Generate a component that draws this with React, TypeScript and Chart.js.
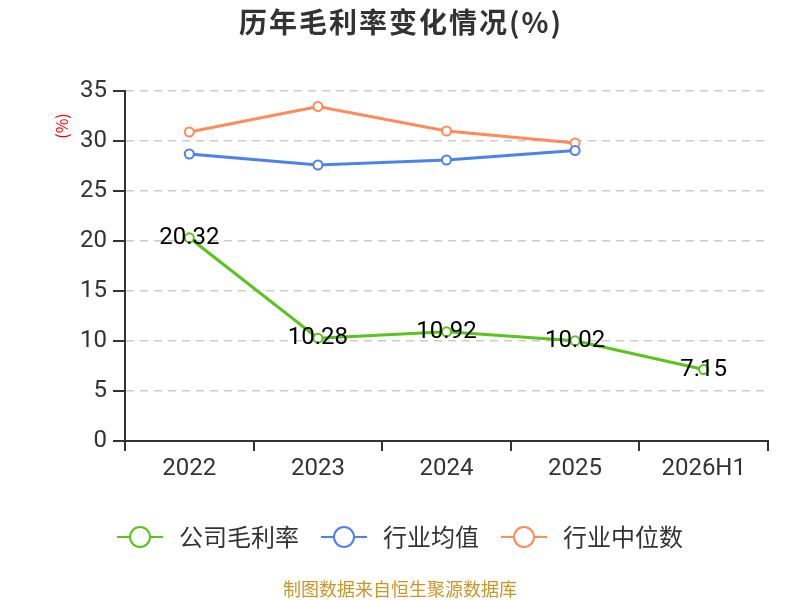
import { useEffect, useRef } from "react";
import { Chart, registerables } from "chart.js";

Chart.register(...registerables);

const years = ["2022", "2023", "2024", "2025", "2026H1"];
const companyMargin = [20.32, 10.28, 10.92, 10.02, 7.15];
const industryMean = [28.7, 27.6, 28.1, 29.05, null];
const industryMedian = [30.9, 33.45, 31.0, 29.8, null];
const yTicks = [0, 5, 10, 15, 20, 25, 30, 35];

const GREEN = "#5ac31e";
const BLUE = "#4d82e8";
const ORANGE = "#ff8c5a";
const CJK = "'Noto Sans CJK SC', 'Noto Sans', sans-serif";
const NUM = "Roboto, 'Noto Sans CJK SC', sans-serif";

const labelsPlugin = {
  id: "overlay",
  afterDatasetsDraw(chart: Chart) {
    const { ctx } = chart;
    const meta = chart.getDatasetMeta(0);
    ctx.save();
    ctx.font = `24px ${NUM}`;
    ctx.fillStyle = "#000";
    ctx.textAlign = "center";
    ctx.textBaseline = "middle";
    meta.data.forEach((pt, i) => {
      ctx.fillText(companyMargin[i].toFixed(2), pt.x, pt.y);
    });
    ctx.restore();
  },
  afterDraw(chart: Chart) {
    const { ctx } = chart;
    ctx.save();
    // title
    ctx.font = `bold 28px ${CJK}`;
    (ctx as any).letterSpacing = "2px";
    ctx.fillStyle = "#333";
    ctx.textAlign = "center";
    ctx.textBaseline = "middle";
    ctx.fillText("历年毛利率变化情况(%)", 401, 22);
    (ctx as any).letterSpacing = "0px";
    // y unit
    ctx.save();
    ctx.translate(62, 126);
    ctx.rotate(-Math.PI / 2);
    ctx.font = `16px ${CJK}`;
    ctx.fillStyle = "#ff0000";
    ctx.fillText("(%)", 0, 0);
    ctx.restore();
    // legend
    const items = [
      { text: "公司毛利率", color: GREEN },
      { text: "行业均值", color: BLUE },
      { text: "行业中位数", color: ORANGE },
    ];
    ctx.font = `24px ${CJK}`;
    const lineW = 46, gapText = 16, gapItem = 22;
    const widths = items.map((it) => lineW + gapText + ctx.measureText(it.text).width);
    const total = widths.reduce((a, b) => a + b, 0) + gapItem * (items.length - 1);
    let x = 400 - total / 2;
    const y = 537;
    items.forEach((it, i) => {
      ctx.strokeStyle = it.color;
      ctx.lineWidth = 2;
      ctx.beginPath();
      ctx.moveTo(x, y);
      ctx.lineTo(x + lineW, y);
      ctx.stroke();
      ctx.beginPath();
      ctx.arc(x + lineW / 2, y, 10, 0, Math.PI * 2);
      ctx.fillStyle = "#fff";
      ctx.fill();
      ctx.stroke();
      ctx.fillStyle = "#333";
      ctx.textAlign = "left";
      ctx.fillText(it.text, x + lineW + gapText, y);
      x += widths[i] + gapItem;
    });
    // footer
    ctx.font = `18px ${CJK}`;
    ctx.fillStyle = "#c8962a";
    ctx.textAlign = "center";
    ctx.fillText("制图数据来自恒生聚源数据库", 400, 589);
    ctx.restore();
  },
};

const series = (label: string, data: (number | null)[], color: string) => ({
  label,
  data,
  borderColor: color,
  backgroundColor: "#fff",
  borderWidth: 3,
  pointRadius: 4.5,
  pointBorderWidth: 2,
  pointBackgroundColor: "#fff",
  pointBorderColor: color,
  tension: 0,
  spanGaps: false,
});

export default function App() {
  const ref = useRef<HTMLCanvasElement>(null);

  useEffect(() => {
    document.body.style.margin = "0";
    if (!ref.current) return;
    const chart = new Chart(ref.current, {
      type: "line",
      data: {
        labels: years,
        datasets: [
          series("公司毛利率", companyMargin, GREEN),
          series("行业均值", industryMean, BLUE),
          series("行业中位数", industryMedian, ORANGE),
        ],
      },
      options: {
        animation: false,
        responsive: false,
        layout: { padding: { top: 91, right: 32, bottom: 109, left: 0 } },
        plugins: {
          legend: { display: false },
          title: { display: false },
          tooltip: { enabled: false },
        },
        scales: {
          x: {
            offset: true,
            afterFit: (s: any) => { s.height = 50; },
            grid: { offset: true, drawOnChartArea: false, drawTicks: true, tickLength: 10, color: "#333", lineWidth: 2 },
            border: { color: "#333", width: 2 },
            ticks: { color: "#333", font: { size: 24, family: NUM }, padding: 4 },
          },
          y: {
            min: 0,
            max: 35,
            afterFit: (s: any) => { s.width = 125; },
            afterBuildTicks: (s: any) => { s.ticks = yTicks.map((v) => ({ value: v })); },
            grid: { color: "#cccccc", lineWidth: 1.5, drawTicks: false },
            border: { color: "#333", width: 2, dash: [8, 6] },
            ticks: { color: "#333", font: { size: 24, family: NUM }, padding: 18 },
          },
        },
      },
      plugins: [
        {
          id: "yTicksMarks",
          afterDraw(chart: Chart) {
            const { ctx, chartArea } = chart;
            const y = chart.scales.y;
            ctx.save();
            ctx.strokeStyle = "#333";
            ctx.lineWidth = 2;
            yTicks.forEach((v) => {
              const py = Math.round(y.getPixelForValue(v));
              ctx.beginPath();
              ctx.moveTo(chartArea.left - 12, py);
              ctx.lineTo(chartArea.left, py);
              ctx.stroke();
            });
            ctx.beginPath();
            ctx.moveTo(chartArea.left, chartArea.top);
            ctx.lineTo(chartArea.left, chartArea.bottom);
            ctx.stroke();
            ctx.restore();
          },
        },
        labelsPlugin,
      ],
    });
    return () => chart.destroy();
  }, []);

  return (
    <div style={{ width: 800, height: 600 }}>
      <canvas ref={ref} width={800} height={600} />
    </div>
  );
}
